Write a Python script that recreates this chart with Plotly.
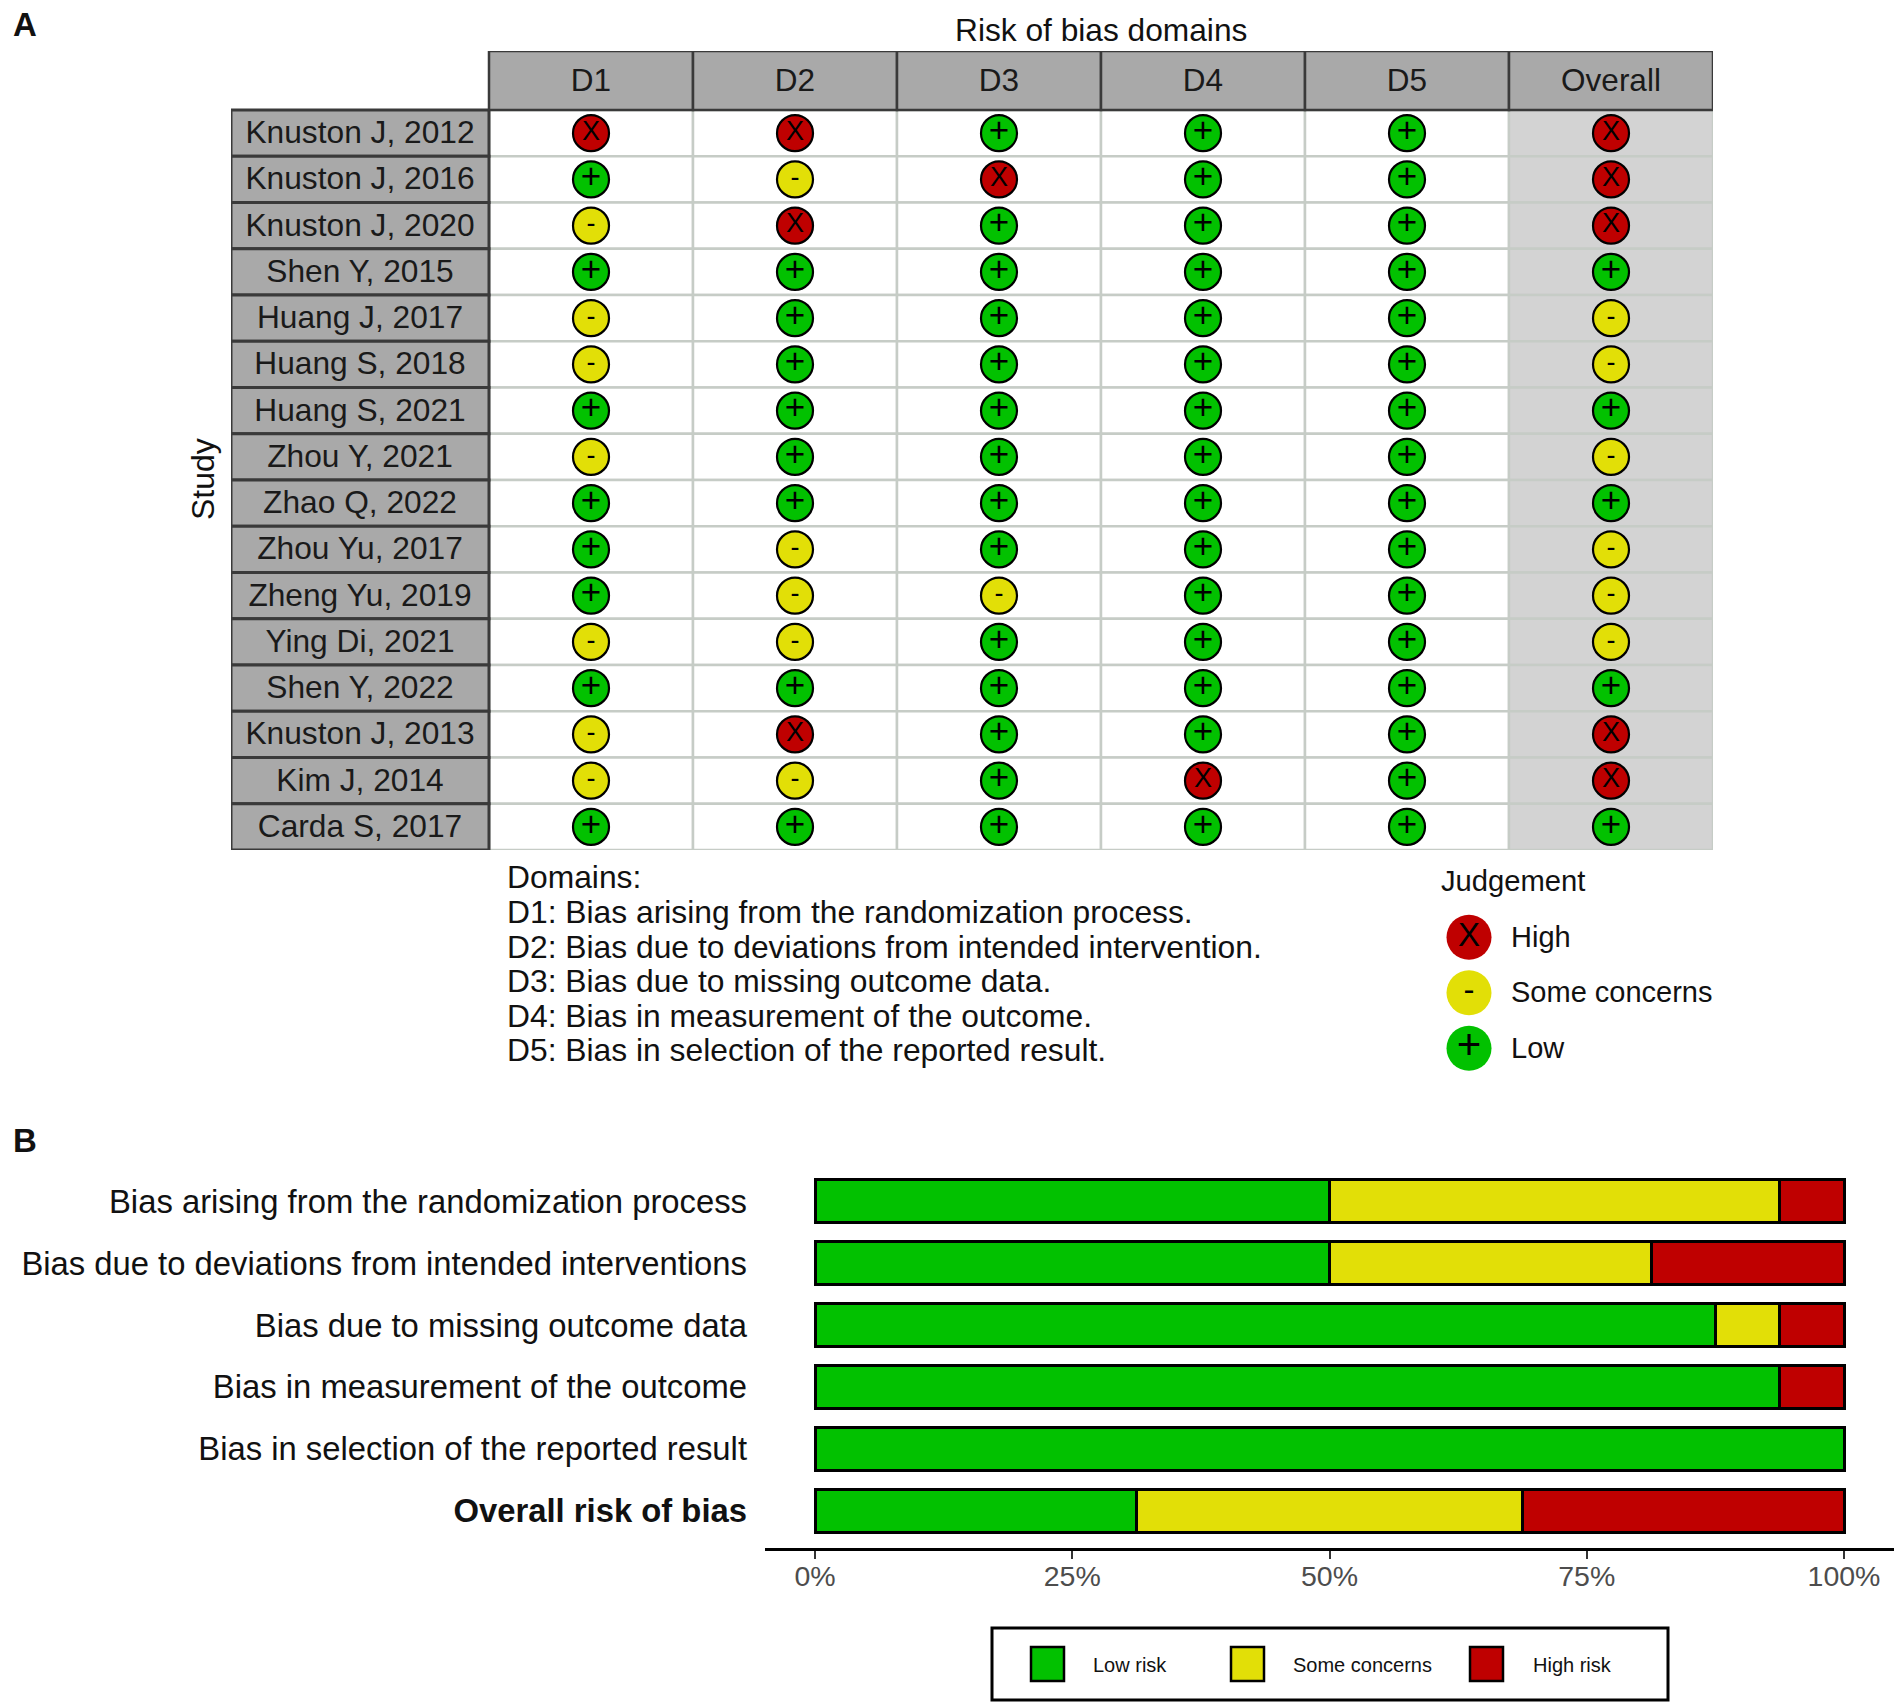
import plotly.graph_objects as go

W, H = 1902, 1708
FONT = "Liberation Sans"

studies = ["Knuston J, 2012", "Knuston J, 2016", "Knuston J, 2020", "Shen Y, 2015", "Huang J, 2017",
           "Huang S, 2018", "Huang S, 2021", "Zhou Y, 2021", "Zhao Q, 2022", "Zhou Yu, 2017",
           "Zheng Yu, 2019", "Ying Di, 2021", "Shen Y, 2022", "Knuston J, 2013", "Kim J, 2014", "Carda S, 2017"]
domains = ["D1", "D2", "D3", "D4", "D5", "Overall"]
d1 = ["X", "+", "-", "+", "-", "-", "+", "-", "+", "+", "+", "-", "+", "-", "-", "+"]
d2 = ["X", "-", "X", "+", "+", "+", "+", "+", "+", "-", "-", "-", "+", "X", "-", "+"]
d3 = ["+", "X", "+", "+", "+", "+", "+", "+", "+", "+", "-", "+", "+", "+", "+", "+"]
d4 = ["+", "+", "+", "+", "+", "+", "+", "+", "+", "+", "+", "+", "+", "+", "X", "+"]
d5 = ["+", "+", "+", "+", "+", "+", "+", "+", "+", "+", "+", "+", "+", "+", "+", "+"]
overall = ["X", "X", "X", "+", "-", "-", "+", "-", "+", "-", "-", "-", "+", "X", "X", "+"]
judgements = [d1, d2, d3, d4, d5, overall]

domain_notes = ["Domains:", "D1: Bias arising from the randomization process.",
                "D2: Bias due to deviations from intended intervention.",
                "D3: Bias due to missing outcome data.", "D4: Bias in measurement of the outcome.",
                "D5: Bias in selection of the reported result."]
legend_labels = ["High", "Some concerns", "Low"]
legend_glyphs = ["X", "-", "+"]

bias_labels = ["Bias arising from the randomization process", "Bias due to deviations from intended interventions",
               "Bias due to missing outcome data", "Bias in measurement of the outcome",
               "Bias in selection of the reported result", "<b>Overall risk of bias</b>"]
low_risk = [50, 50, 87.5, 93.75, 100, 31.25]
some_concerns = [43.75, 31.25, 6.25, 0, 0, 37.5]
high_risk = [6.25, 18.75, 6.25, 6.25, 0, 31.25]
pct_ticks = [0, 25, 50, 75, 100]
pct_labels = ["0%", "25%", "50%", "75%", "100%"]

GREEN, YELLOW, RED = "#02C100", "#E2DF07", "#BF0000"
COL = {"X": RED, "-": YELLOW, "+": GREEN}
GLYPH_SIZE = {"X": 27, "-": 27, "+": 35}

def px(x): return x / W
def py(y): return 1 - y / H

fig = go.Figure()
shapes, ann = [], []

# Panel A table: columns at 0..5, rows at 0..15
X0, X1, XS = 231, 1713, 489
Y0, Y1, YS = 51, 850, 110
cw = (X1 - XS) / 6
rh = (Y1 - YS) / 16
xr = [-0.5 - (XS - X0) / cw, 5.5]
yr = [15.5, -0.5 - (YS - Y0) / rh]
hdr_y = -0.5 - (YS - Y0) / rh / 2
lab_x = -0.5 - (XS - X0) / cw / 2
text_dy = 2 / rh

fig.update_layout(
    xaxis=dict(domain=[px(X0), px(X1)], range=xr, visible=False, fixedrange=True),
    yaxis=dict(domain=[py(Y1), py(Y0)], range=yr, visible=False, fixedrange=True),
)

def cell(x0, x1, y0, y1, fill, line, w):
    shapes.append(dict(type="rect", xref="x", yref="y", x0=x0, x1=x1, y0=y0, y1=y1, layer="below",
                       fillcolor=fill, line=dict(color=line, width=w)))

for r in range(len(studies)):
    for c in range(len(domains)):
        cell(c - .5, c + .5, r - .5, r + .5, "#D3D3D3" if c == 5 else "#FFFFFF", "#C6CCC6", 2.5)
for r in range(len(studies)):
    cell(xr[0], -0.5, r - .5, r + .5, "#A9A9A9", "#3A3A3A", 3)
for c in range(len(domains)):
    cell(c - .5, c + .5, yr[1], -0.5, "#A9A9A9", "#3A3A3A", 2.5)

fig.add_trace(go.Scatter(x=[lab_x] * len(studies), y=[r + text_dy for r in range(len(studies))], text=studies,
                         mode="text", textposition="middle center",
                         textfont=dict(family=FONT, size=31.7, color="#1a1a1a"),
                         hoverinfo="skip", showlegend=False))
fig.add_trace(go.Scatter(x=list(range(len(domains))), y=[hdr_y + text_dy * 1.5] * len(domains), text=domains,
                         mode="text", textposition="middle center",
                         textfont=dict(family=FONT, size=31.5, color="#1a1a1a"),
                         hoverinfo="skip", showlegend=False))
for c, col in enumerate(judgements):
    fig.add_trace(go.Scatter(
        x=[c] * len(col), y=list(range(len(col))), mode="markers+text", text=col,
        textposition="middle center",
        textfont=dict(family=FONT, size=[GLYPH_SIZE[v] for v in col], color="#000000"),
        marker=dict(size=36, color=[COL[v] for v in col], line=dict(color="#000000", width=2.2)),
        hoverinfo="skip", showlegend=False))

# Judgement legend
LX0, LX1 = 1419, 1719
LY0, LY1 = 909.5, 1076
fig.update_layout(
    xaxis3=dict(domain=[px(LX0), px(LX1)], range=[LX0, LX1], visible=False, fixedrange=True),
    yaxis3=dict(domain=[py(LY1), py(LY0)], range=[2.5, -0.5], visible=False, fixedrange=True, anchor="x3"),
)
fig.add_trace(go.Scatter(x=[1469] * 3, y=[0, 1, 2], mode="markers+text", text=legend_glyphs, xaxis="x3", yaxis="y3",
                         textposition="middle center",
                         textfont=dict(family=FONT, size=[33, 33, 42], color="#000000"),
                         marker=dict(size=45, color=[COL[g] for g in legend_glyphs], line=dict(width=0)),
                         hoverinfo="skip", showlegend=False))
fig.add_trace(go.Scatter(x=[1511] * 3, y=[0.04, 1.04, 2.04], mode="text", text=legend_labels, xaxis="x3", yaxis="y3",
                         textposition="middle right", textfont=dict(family=FONT, size=29, color="#111111"),
                         hoverinfo="skip", showlegend=False))

# Panel B stacked bars
BX0, BX1 = 765, 1894
BY0, BY1 = 1164, 1548
span = 1029 / 100
fig.update_layout(
    barmode="stack",
    xaxis2=dict(domain=[px(BX0), px(BX1)], range=[(BX0 - 815) / span, (BX1 - 815) / span],
                anchor="y2", tickvals=pct_ticks, ticktext=pct_labels, ticks="outside", ticklen=8, tickwidth=2,
                tickcolor="#333333", showline=True, linecolor="#000000", linewidth=3, showgrid=False, zeroline=False,
                ticklabelstandoff=-7, tickfont=dict(family=FONT, size=28.5, color="#4d4d4d"), fixedrange=True),
    yaxis2=dict(domain=[py(BY1), py(BY0)], range=[5.6, -0.6], anchor="x2", type="category",
                categoryorder="array", categoryarray=bias_labels, showline=False, showgrid=False, ticks="",
                ticklabelstandoff=17, tickfont=dict(family=FONT, size=32.8, color="#111111"), fixedrange=True),
)
for name, vals, color in [("Low risk", low_risk, GREEN), ("Some concerns", some_concerns, YELLOW),
                          ("High risk", high_risk, RED)]:
    fig.add_trace(go.Bar(y=bias_labels, x=vals, name=name, orientation="h", width=0.7, xaxis="x2", yaxis="y2",
                         marker=dict(color=color, line=dict(color="#000000", width=3)),
                         hoverinfo="skip", showlegend=False))

# Text labels
def text(x, y, s, size, anchor="left", color="#111111", **kw):
    ann.append(dict(xref="paper", yref="paper", x=px(x), y=py(y), text=s, showarrow=False, xanchor=anchor,
                    yanchor="middle", font=dict(family=FONT, size=size, color=color), **kw))

text(11, 25, "<b>A</b>", 33)
text(11, 1140, "<b>B</b>", 33)
text(1101, 30, "Risk of bias domains", 31.7, "center")
text(203, 479, "Study", 32, "center", textangle=-90)
for y, s in zip([877, 912, 947, 981, 1016, 1050], domain_notes):
    text(505, y, s, 31.8)
text(1439, 881, "Judgement", 29.2)

# Bottom legend
shapes.append(dict(type="rect", xref="paper", yref="paper", x0=px(992), x1=px(1668), y0=py(1700), y1=py(1628),
                   line=dict(color="#000000", width=3), fillcolor="#FFFFFF", layer="below"))
for x0, c, tx, s in [(1031, GREEN, 1091, "Low risk"), (1231, YELLOW, 1291, "Some concerns"),
                     (1470, RED, 1531, "High risk")]:
    shapes.append(dict(type="rect", xref="paper", yref="paper", x0=px(x0), x1=px(x0 + 33), y0=py(1681), y1=py(1647),
                       line=dict(color="#000000", width=2.5), fillcolor=c, layer="above"))
    text(tx, 1665, s, 20)

fig.update_layout(width=W, height=H, autosize=False, margin=dict(l=0, r=0, t=0, b=0),
                  paper_bgcolor="#FFFFFF", plot_bgcolor="rgba(0,0,0,0)",
                  shapes=shapes, annotations=ann, showlegend=False)
fig.write_html("out.html", config={"displayModeBar": False},
               post_script="document.body.style.margin='0';document.documentElement.style.overflow='hidden';")
